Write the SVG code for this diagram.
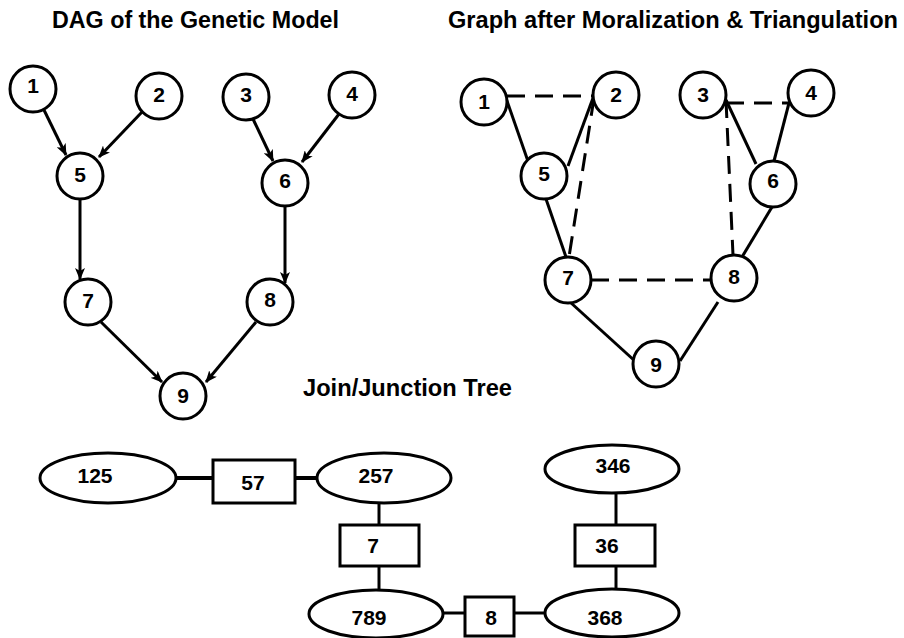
<svg xmlns="http://www.w3.org/2000/svg" width="904" height="638" viewBox="0 0 904 638">
  <style>
    .title { font-family: "Liberation Sans", Arial, sans-serif; font-weight: bold; font-size: 23px; fill: #000; }
    .lbl { font-family: "Liberation Sans", Arial, sans-serif; font-weight: bold; font-size: 21px; fill: #000; text-anchor: middle; }
    .node { fill: #fff; stroke: #000; stroke-width: 3; }
    .edge { stroke: #000; stroke-width: 3; fill: none; }
    .dash { stroke: #000; stroke-width: 3; fill: none; stroke-dasharray: 18 10; }
    .arrow { stroke: #000; stroke-width: 3; fill: none; marker-end: url(#head); }
  </style>
  <defs>
    <marker id="head" markerUnits="userSpaceOnUse" markerWidth="12" markerHeight="10" refX="11" refY="5" orient="auto">
      <path d="M0,0 L12,5 L0,10 L3,5 z" fill="#000"/>
    </marker>
  </defs>
  <rect width="904" height="638" fill="#fff"/>

  <!-- headings -->
  <text class="title" x="52" y="28" textLength="287" lengthAdjust="spacingAndGlyphs">DAG of the Genetic Model</text>
  <text class="title" x="448" y="28" textLength="450" lengthAdjust="spacingAndGlyphs">Graph after Moralization &amp; Triangulation</text>
  <text class="title" x="303" y="396" textLength="209" lengthAdjust="spacingAndGlyphs">Join/Junction Tree</text>

  <!-- connectors -->
  <g id="connectors">
    <!-- DAG arrows -->
    <line class="arrow" x1="44" y1="110" x2="66" y2="155"/>
    <line class="arrow" x1="142" y1="112" x2="99" y2="157"/>
    <line class="arrow" x1="253" y1="119" x2="273" y2="161"/>
    <line class="arrow" x1="339" y1="114" x2="302" y2="162"/>
    <line class="arrow" x1="80" y1="199" x2="80" y2="279"/>
    <line class="arrow" x1="285" y1="207" x2="285" y2="283"/>
    <line class="arrow" x1="101" y1="322" x2="162" y2="382"/>
    <line class="arrow" x1="256" y1="322" x2="206" y2="382"/>

    <!-- moral / triangulated graph -->
    <line class="dash" x1="507" y1="96" x2="593" y2="96"/>
    <line class="edge" x1="506" y1="98" x2="530" y2="167"/>
    <line class="edge" x1="593" y1="98" x2="568" y2="166"/>
    <line class="dash" x1="594" y1="98" x2="569" y2="257"/>
    <line class="edge" x1="546" y1="199" x2="566" y2="257"/>
    <line class="dash" x1="726" y1="103" x2="789" y2="103"/>
    <line class="edge" x1="726" y1="100" x2="756" y2="164"/>
    <line class="dash" x1="726" y1="100" x2="733" y2="255"/>
    <line class="edge" x1="789" y1="103" x2="774" y2="161"/>
    <line class="edge" x1="772" y1="207" x2="742" y2="257"/>
    <line class="dash" x1="591" y1="280" x2="711" y2="280"/>
    <line class="edge" x1="570" y1="302" x2="636" y2="362"/>
    <line class="edge" x1="718" y1="302" x2="680" y2="361"/>

    <!-- junction tree -->
    <line class="edge" x1="176" y1="478" x2="213" y2="478" style="stroke-width:4"/>
    <line class="edge" x1="295" y1="478" x2="317" y2="478" style="stroke-width:4"/>
    <line class="edge" x1="379" y1="503" x2="379" y2="525"/>
    <line class="edge" x1="379" y1="566" x2="379" y2="590"/>
    <line class="edge" x1="443" y1="613" x2="465" y2="613"/>
    <line class="edge" x1="514" y1="613" x2="545" y2="613"/>
    <line class="edge" x1="616" y1="493" x2="616" y2="525"/>
    <line class="edge" x1="616" y1="566" x2="616" y2="589"/>
  </g>

  <!-- DAG nodes -->
  <g id="dag-1"><circle class="node" cx="33" cy="89" r="23"/><text class="lbl" x="33" y="93">1</text></g>
  <g id="dag-2"><circle class="node" cx="159" cy="96" r="23"/><text class="lbl" x="159" y="102">2</text></g>
  <g id="dag-3"><circle class="node" cx="246" cy="97" r="23"/><text class="lbl" x="246" y="102">3</text></g>
  <g id="dag-4"><circle class="node" cx="352" cy="95" r="23"/><text class="lbl" x="352" y="101">4</text></g>
  <g id="dag-5"><circle class="node" cx="80" cy="176" r="23"/><text class="lbl" x="80" y="182">5</text></g>
  <g id="dag-6"><circle class="node" cx="285" cy="183" r="23"/><text class="lbl" x="285" y="188">6</text></g>
  <g id="dag-7"><circle class="node" cx="88" cy="302" r="23"/><text class="lbl" x="88" y="308">7</text></g>
  <g id="dag-8"><circle class="node" cx="270" cy="302" r="23"/><text class="lbl" x="270" y="307">8</text></g>
  <g id="dag-9"><circle class="node" cx="183" cy="396" r="23"/><text class="lbl" x="183" y="403">9</text></g>

  <!-- moral graph nodes -->
  <g id="mg-1"><circle class="node" cx="484" cy="102" r="23"/><text class="lbl" x="484" y="109">1</text></g>
  <g id="mg-2"><circle class="node" cx="616" cy="95" r="23"/><text class="lbl" x="616" y="102">2</text></g>
  <g id="mg-3"><circle class="node" cx="703" cy="95" r="23"/><text class="lbl" x="703" y="102">3</text></g>
  <g id="mg-4"><circle class="node" cx="811" cy="93" r="23"/><text class="lbl" x="811" y="100">4</text></g>
  <g id="mg-5"><circle class="node" cx="544" cy="176" r="23"/><text class="lbl" x="544" y="181">5</text></g>
  <g id="mg-6"><circle class="node" cx="773" cy="184" r="23"/><text class="lbl" x="773" y="188">6</text></g>
  <g id="mg-7"><circle class="node" cx="568" cy="280" r="23"/><text class="lbl" x="568" y="285">7</text></g>
  <g id="mg-8"><circle class="node" cx="734" cy="278" r="23"/><text class="lbl" x="734" y="284">8</text></g>
  <g id="mg-9"><circle class="node" cx="656" cy="364" r="23"/><text class="lbl" x="656" y="372">9</text></g>

  <!-- junction tree cliques and separators -->
  <g id="clique-125"><ellipse class="node" cx="108" cy="478" rx="68" ry="25"/><text class="lbl" x="95" y="483">125</text></g>
  <g id="sep-57"><rect class="node" x="213" y="460" width="82" height="43"/><text class="lbl" x="253" y="490">57</text></g>
  <g id="clique-257"><ellipse class="node" cx="384" cy="478" rx="67" ry="25"/><text class="lbl" x="376" y="483">257</text></g>
  <g id="sep-7"><rect class="node" x="340" y="525" width="79" height="41"/><text class="lbl" x="373" y="553">7</text></g>
  <g id="clique-789"><ellipse class="node" cx="376" cy="614" rx="67" ry="24"/><text class="lbl" x="369" y="625">789</text></g>
  <g id="sep-8"><rect class="node" x="465" y="597" width="49" height="39"/><text class="lbl" x="491" y="625">8</text></g>
  <g id="clique-368"><ellipse class="node" cx="612" cy="613" rx="67" ry="24"/><text class="lbl" x="605" y="625">368</text></g>
  <g id="sep-36"><rect class="node" x="575" y="525" width="80" height="41"/><text class="lbl" x="607" y="553">36</text></g>
  <g id="clique-346"><ellipse class="node" cx="612" cy="469" rx="67" ry="24"/><text class="lbl" x="613" y="473">346</text></g>
</svg>
